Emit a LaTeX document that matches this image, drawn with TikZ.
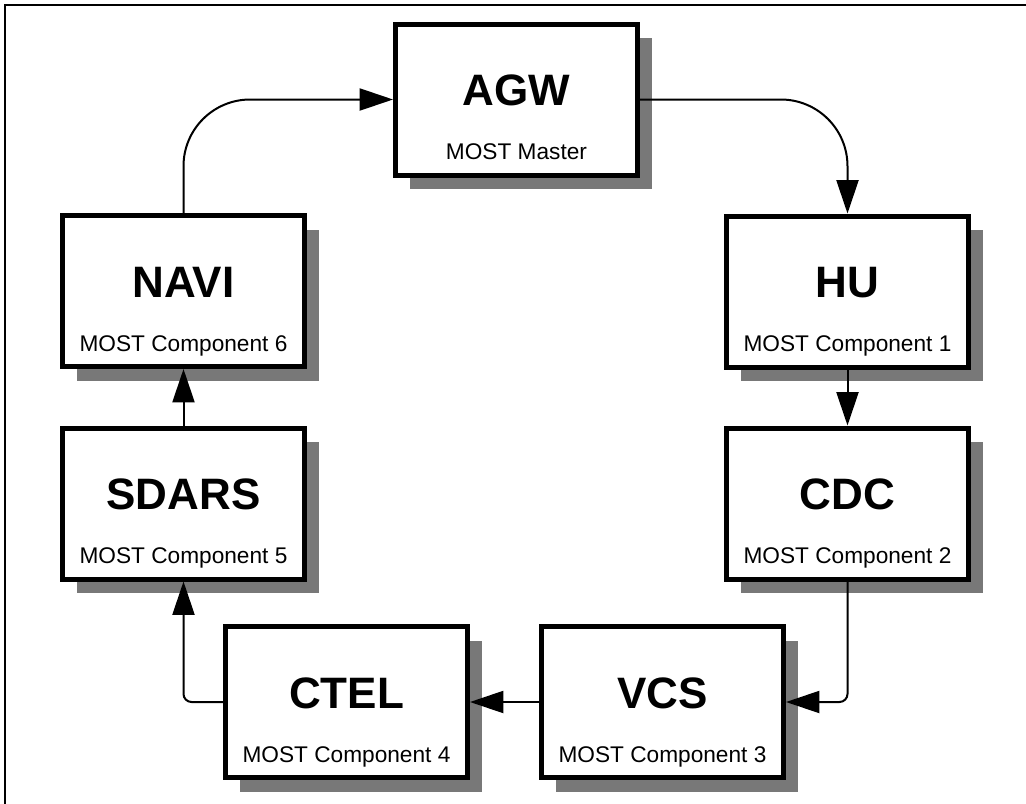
\documentclass[tikz,border=0pt]{standalone}
\usepackage{fontspec}
\setmainfont{Liberation Sans}
\usetikzlibrary{arrows.meta,shadows}
\definecolor{shade}{gray}{0.47}
\tikzset{
  comp/.style={draw=black, line width=3.75pt, fill=white, minimum width=181.5pt,
    minimum height=113.25pt, inner sep=0pt,
    drop shadow={shadow xshift=10.5pt, shadow yshift=-10.5pt, fill=shade, opacity=1}},
  ttl/.style={anchor=base, font=\fontsize{33}{36}\selectfont\bfseries, inner sep=0pt},
  sub/.style={anchor=base, font=\fontsize{17}{20}\selectfont, inner sep=0pt},
  link/.style={line width=1.5pt, -{Triangle[length=25pt,width=16.5pt]}},
  frameline/.style={line width=1.5pt}
}
\newcommand\compbox[5]{%
  \node[comp] (#1) at (#2,#3) {};
  \node[ttl] (#1-t) at (#2,#3+6) {#4};
  \node[sub] (#1-s) at (#2,#3+60) {#5};
}
\begin{document}
\begin{tikzpicture}[x=0.75pt,y=-0.75pt]
\useasboundingbox (0,0) rectangle (1026,804);
\coordinate (fTL) at (5,5);
\coordinate (fTR) at (1026,5);
\coordinate (fBL) at (5,804);
\draw[frameline] (fTR) -- (fTL) -- (fBL);
\compbox{agw}{516.5}{99.5}{AGW}{MOST Master}
\compbox{hu}{847.5}{291.5}{HU}{MOST Component 1}
\compbox{cdc}{847.5}{503.5}{CDC}{MOST Component 2}
\compbox{vcs}{662.5}{702}{VCS}{MOST Component 3}
\compbox{ctel}{346.5}{702}{CTEL}{MOST Component 4}
\compbox{sdars}{183.5}{503.5}{SDARS}{MOST Component 5}
\compbox{navi}{183.5}{291}{NAVI}{MOST Component 6}
\draw[link, rounded corners=50pt] (navi.north) |- (agw.west);
\draw[link, rounded corners=50pt] (agw.east) -| (hu.north);
\draw[link] (hu.south) -- (cdc.north);
\draw[link, rounded corners=6pt] (cdc.south) |- (vcs.east);
\draw[link] (vcs.west) -- (ctel.east);
\draw[link, rounded corners=6pt] (ctel.west) -| (sdars.south);
\draw[link] (sdars.north) -- (navi.south);
\end{tikzpicture}
\end{document}
